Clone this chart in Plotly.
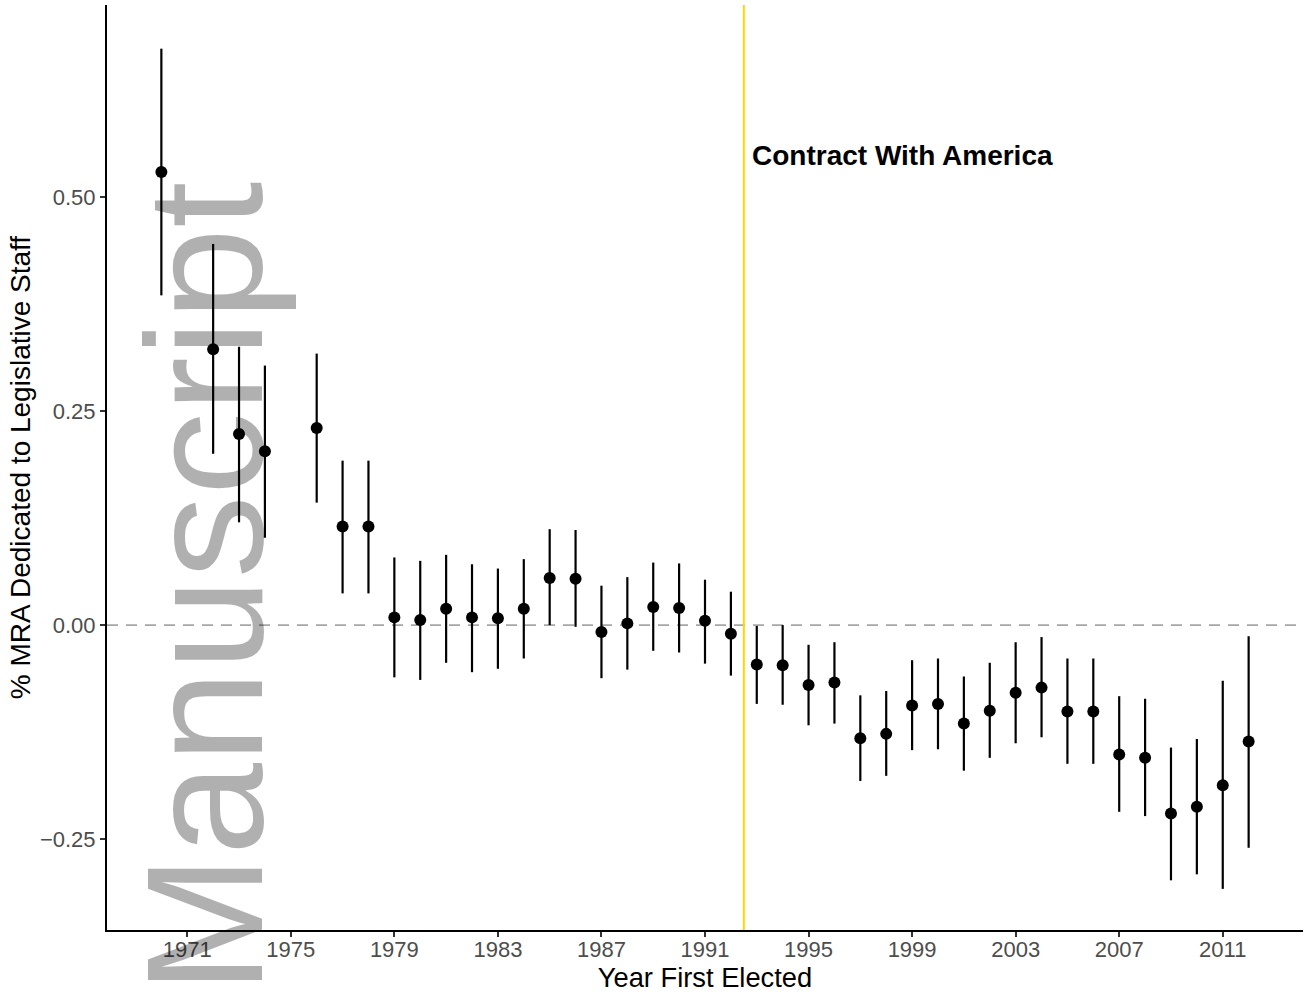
import plotly.graph_objects as go

years = [1970, 1972, 1973, 1974, 1976, 1977, 1978, 1979, 1980, 1981, 1982, 1983,
         1984, 1985, 1986, 1987, 1988, 1989, 1990, 1991, 1992, 1993, 1994, 1995,
         1996, 1997, 1998, 1999, 2000, 2001, 2002, 2003, 2004, 2005, 2006, 2007,
         2008, 2009, 2010, 2011, 2012]
estimate = [0.529, 0.322, 0.223, 0.203, 0.230, 0.115, 0.115, 0.009, 0.006, 0.019,
            0.009, 0.008, 0.019, 0.055, 0.054, -0.008, 0.002, 0.021, 0.020, 0.005,
            -0.010, -0.046, -0.047, -0.070, -0.067, -0.132, -0.127, -0.094, -0.092,
            -0.115, -0.100, -0.079, -0.073, -0.101, -0.101, -0.151, -0.155, -0.220,
            -0.212, -0.187, -0.136]
upper = [0.673, 0.445, 0.325, 0.303, 0.317, 0.192, 0.192, 0.079, 0.075, 0.082,
         0.071, 0.066, 0.077, 0.112, 0.111, 0.046, 0.056, 0.073, 0.072, 0.053,
         0.039, -0.001, 0.000, -0.023, -0.020, -0.082, -0.077, -0.041, -0.039,
         -0.060, -0.044, -0.020, -0.014, -0.039, -0.039, -0.083, -0.086, -0.143,
         -0.133, -0.065, -0.013]
lower = [0.385, 0.200, 0.120, 0.102, 0.143, 0.037, 0.037, -0.061, -0.064, -0.044,
         -0.055, -0.051, -0.039, 0.000, -0.002, -0.062, -0.052, -0.030, -0.032,
         -0.045, -0.059, -0.092, -0.093, -0.117, -0.115, -0.182, -0.176, -0.146,
         -0.145, -0.170, -0.155, -0.138, -0.131, -0.162, -0.162, -0.218, -0.223,
         -0.298, -0.291, -0.308, -0.260]

x_tickvals = [1971, 1975, 1979, 1983, 1987, 1991, 1995, 1999, 2003, 2007, 2011]
y_tickvals = [-0.25, 0.0, 0.25, 0.50]
y_ticktext = ["\u22120.25", "0.00", "0.25", "0.50"]
event_year = 1992.5
event_label = "Contract With America"
watermark = "Manuscript"

FONT = "Liberation Sans, Arial, Helvetica, sans-serif"

fig = go.Figure()

fig.add_trace(go.Scatter(
    x=years, y=estimate, mode="markers",
    marker=dict(color="black", size=12),
    error_y=dict(type="data", symmetric=False,
                 array=[u - e for u, e in zip(upper, estimate)],
                 arrayminus=[e - l for e, l in zip(estimate, lower)],
                 color="black", thickness=2.2, width=0),
    showlegend=False, cliponaxis=False, hoverinfo="skip",
))

fig.add_hline(y=0, line=dict(color="#a6a6a6", width=1.6, dash="11px,8px"), layer="below")
fig.add_vline(x=event_year, line=dict(color="#FFD700", width=2), layer="below")

fig.add_annotation(x=event_year, y=0.548, xref="x", yref="y", text=event_label,
                   showarrow=False, xanchor="left", yanchor="middle", xshift=6,
                   font=dict(family=FONT, size=28, color="black", weight="bold"))

fig.add_annotation(x=0.0816, y=0.3698, xref="paper", yref="paper", text=watermark,
                   showarrow=False, textangle=-90, xanchor="center", yanchor="middle",
                   font=dict(family=FONT, size=166, color="rgba(0,0,0,0.31)"))

fig.update_layout(
    width=1307, height=993,
    margin=dict(l=107, r=4, t=5, b=63),
    paper_bgcolor="white", plot_bgcolor="white",
    font=dict(family=FONT),
    xaxis=dict(range=[1967.9, 2014.1], tickvals=x_tickvals,
               showgrid=False, zeroline=False,
               showline=True, linecolor="black", linewidth=2,
               ticks="outside", ticklen=5, tickwidth=1.5, tickcolor="#333333",
               ticklabelstandoff=-6,
               tickfont=dict(size=22, color="#4d4d4d"),
               title=dict(text="Year First Elected", font=dict(size=27.3, color="black"), standoff=5)),
    yaxis=dict(range=[-0.356, 0.724], tickvals=y_tickvals, ticktext=y_ticktext,
               showgrid=False, zeroline=False,
               showline=True, linecolor="black", linewidth=2,
               ticks="outside", ticklen=5, tickwidth=1.5, tickcolor="#333333",
               tickfont=dict(size=22, color="#4d4d4d"),
               title=dict(text="% MRA Dedicated to Legislative Staff", font=dict(size=28, color="black"), standoff=1)),
)

fig.write_html("out.html", config={"displayModeBar": False},
               post_script="document.body.style.margin='0';document.body.style.overflow='hidden';")
